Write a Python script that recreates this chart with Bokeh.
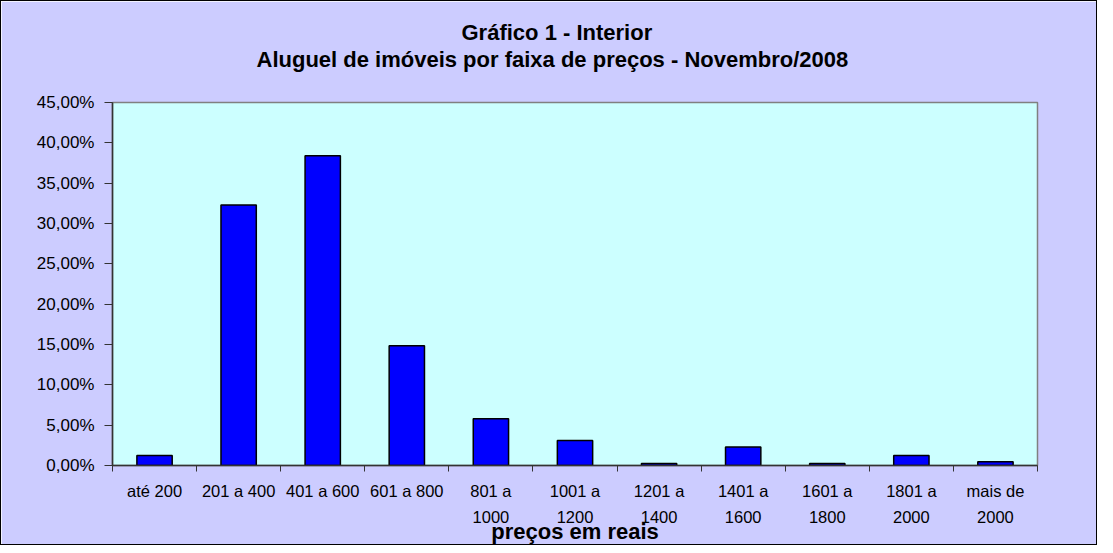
from bokeh.plotting import figure
from bokeh.models import FixedTicker, CustomJSTickFormatter, Range1d, ColumnDataSource, Title
from bokeh.embed import file_html
from bokeh.resources import INLINE

categories = ["até 200", "201 a 400", "401 a 600", "601 a 800", "801 a\n1000",
              "1001 a\n1200", "1201 a\n1400", "1401 a\n1600", "1601 a\n1800",
              "1801 a\n2000", "mais de\n2000"]
percent = [1.25, 32.3, 38.4, 14.85, 5.8, 3.1, 0.25, 2.3, 0.25, 1.25, 0.45]
y_ticks = [0, 5, 10, 15, 20, 25, 30, 35, 40, 45]
title_lines = ["Gráfico 1 - Interior",
               "Aluguel de imóveis por faixa de preços - Novembro/2008"]

n = len(categories)
centers = [i + 0.5 for i in range(n)]
source = ColumnDataSource(dict(x=centers, top=percent))

FONT = "Liberation Sans"

p = figure(width=1097, height=545, output_backend="svg", toolbar_location=None,
           x_range=Range1d(0, n), y_range=Range1d(0, 45),
           min_border_left=111, min_border_right=61, min_border_top=101, min_border_bottom=76)
p.styles = {"border": "1px solid black", "box-sizing": "border-box"}

p.background_fill_color = "#CCFFFF"
p.border_fill_color = "#CCCCFF"
p.outline_line_color = "#808080"
p.outline_line_width = 1.5
p.grid.visible = False

# titles, added from the plot outward: an empty spacer, then line 2, then line 1
spacer = Title(text=" ", align="left", standoff=4, text_font=FONT, text_font_size="22px")
t2 = Title(text=title_lines[1], align="left", offset=144, standoff=0,
           text_font=FONT, text_font_size="22px", text_font_style="bold", text_color="black")
t1 = Title(text=title_lines[0], align="left", offset=349, standoff=0,
           text_font=FONT, text_font_size="22px", text_font_style="bold", text_color="black")
p.add_layout(spacer, "above")
p.add_layout(t2, "above")
p.add_layout(t1, "above")

p.vbar(x="x", top="top", width=0.42, source=source,
       fill_color="#0000FF", line_color="black", line_width=1.5)

# y axis
ya = p.yaxis[0]
ya.ticker = FixedTicker(ticks=y_ticks)
ya.formatter = CustomJSTickFormatter(code="return tick.toFixed(2).replace('.', ',') + '%';")
ya.major_label_text_font = FONT
ya.major_label_text_font_size = "17px"
ya.major_label_text_color = "black"
ya.axis_line_color = "#333333"
ya.axis_line_width = 1.5
ya.major_tick_line_color = "#333333"
ya.major_tick_out = 8
ya.major_tick_in = 0
ya.minor_tick_line_color = None
ya.major_label_standoff = 10

# x axis
xa = p.xaxis[0]
xa.ticker = FixedTicker(ticks=centers, minor_ticks=list(range(n + 1)))
xa.major_label_overrides = {c: lab for c, lab in zip(centers, categories)}
xa.major_label_text_font = FONT
xa.major_label_text_font_size = "16.5px"
xa.major_label_text_color = "black"
xa.major_label_text_line_height = 1.45
xa.major_tick_line_color = None
xa.major_tick_out = 0
xa.major_tick_in = 0
xa.minor_tick_line_color = "#333333"
xa.minor_tick_out = 6
xa.minor_tick_in = 0
xa.axis_line_color = "#333333"
xa.axis_line_width = 1.5
xa.major_label_standoff = 10
xa.axis_label = "preços em reais"
xa.axis_label_text_font = FONT
xa.axis_label_text_font_size = "22px"
xa.axis_label_text_font_style = "bold"
xa.axis_label_text_color = "black"
xa.axis_label_standoff = -10

open("out.html", "w").write(file_html(p, INLINE))
